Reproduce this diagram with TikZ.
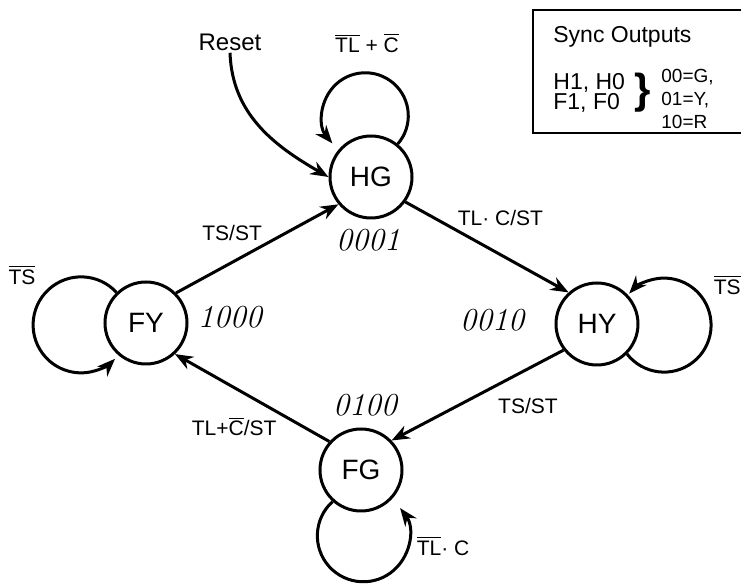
\documentclass[tikz,border=0pt]{standalone}
\usepackage{fontspec}
\setsansfont{Liberation Sans}
\usepackage{tikz}
\usetikzlibrary{arrows.meta,positioning}

\newcommand{\ovl}[1]{$\overline{\hbox{#1}}$}

\begin{document}
\begin{tikzpicture}[
    x=0.5pt, y=0.5pt,
    state/.style={draw, circle, line width=1.5pt, minimum size=41pt, inner sep=0pt, font=\sffamily\fontsize{14}{14}\selectfont},
    lbl/.style={font=\sffamily\fontsize{10.5}{12}\selectfont, inner sep=1pt},
    code/.style={font=\itshape\fontsize{16}{16}\selectfont, inner sep=0pt},
    synctxt/.style={font=\sffamily\fontsize{11.5}{10}\selectfont, align=left, inner sep=0pt},
    arr/.style={-{Stealth[length=9pt,width=7pt]}, line width=1.5pt}
]
\useasboundingbox (0,0) rectangle (741,-588);

% States
\node[state] (HG) at (371,-177) {HG};
\node[state] (FY) at (146,-323) {FY};
\node[state] (HY) at (597,-324) {HY};
\node[state] (FG) at (361,-470) {FG};

% State codes
\node[code] (cHG) at (368,-240) {0001};
\node[code] (cFY) at (230,-317) {1000};
\node[code] (cHY) at (492,-320) {0010};
\node[code] (cFG) at (365,-405) {0100};

% Reset
\node[lbl, font=\sffamily\fontsize{12}{12}\selectfont] (reset) at (230,-42) {Reset};
\draw[arr] (reset.south) to[out=-88, in=150] (HG.180);

% Self loops
\draw[arr] (HG.51) arc[start angle=-41, end angle=220, radius=21.5pt];
\node[lbl] (lHG) at (367,-43) {\ovl{TL} + \ovl{C}};

\draw[arr] (FY.134) arc[start angle=42.5, end angle=315, radius=24pt];
\node[lbl] (lFY) at (22,-275) {\ovl{TS}};

\draw[arr] (HY.-45) arc[start angle=-142, end angle=138, radius=23.5pt];
\node[lbl, anchor=east, inner sep=0pt] (lHY) at (741,-285) {\ovl{TS}};

\draw[arr] (FG.228) arc[start angle=132, end angle=397, radius=23pt];
\node[lbl] (lFG) at (443,-546) {\ovl{TL}· C};

% Transitions
\draw[arr] (FY.45) -- (HG.220) node[lbl, pos=.55, above left] {TS/ST};
\draw[arr] (HG.-36) -- (HY.132) node[lbl, pos=.3, above right] {TL· C/ST};
\draw[arr] (HY.218) -- (FG.44) node[lbl, pos=.4, below right, yshift=-4pt] {TS/ST};
\draw[arr] (FG.138) -- (FY.-47) node[lbl, pos=.32, below left] {TL+\ovl{C}/ST};

% Sync outputs box
\draw[line width=1.3pt] (533,-10) rectangle (770,-133);
\node[synctxt, anchor=west] (synctitle) at (553,-37) {Sync Outputs};
\node[synctxt, anchor=west] (syncvars) at (553,-93) {H1, H0\\F1, F0};
\node[font=\sffamily\bfseries\fontsize{21}{21}\selectfont, inner sep=0pt] (brace) at (643,-93) {\}};
\node[synctxt, anchor=west, font=\sffamily\fontsize{9.5}{11.5}\selectfont] (synccodes) at (661,-99) {00=G,\\01=Y,\\10=R};

\end{tikzpicture}
\end{document}
